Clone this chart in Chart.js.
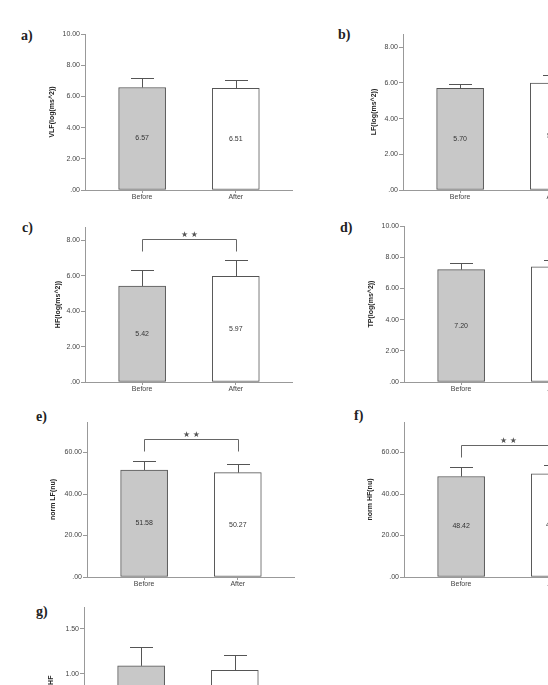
<!DOCTYPE html>
<html>
<head>
<meta charset="utf-8">
<script src="https://cdn.jsdelivr.net/npm/chart.js@4.4.1/dist/chart.umd.min.js"></script>
<style>
  html, body { margin: 0; padding: 0; background: #fff; }
  #page { position: relative; width: 548px; height: 685px; overflow: hidden; }
  #page canvas { position: absolute; }
  .tag { position: absolute; font-family: "Liberation Serif", serif; font-weight: bold;
         font-size: 14px; line-height: 14px; color: #222; }
</style>
</head>
<body>
<div id="page"></div>
<script>
// values (mean, SD) - Before / After
const categories = ["Before", "After"];

const vlfMean = [6.57, 6.51];
const vlfSD = [0.59, 0.56];
const lfMean = [5.70, 5.99];
const lfSD = [0.25, 0.47];
const hfMean = [5.42, 5.97];
const hfSD = [0.92, 0.92];
const tpMean = [7.20, 7.39];
const tpSD = [0.42, 0.46];
const normLfMean = [51.58, 50.27];
const normLfSD = [4.5, 4.2];
const normHfMean = [48.42, 49.73];
const normHfSD = [4.5, 4.1];
const ratioMean = [1.09, 1.04];
const ratioSD = [0.21, 0.17];

// tick labels
const ticks10 = [0, 2, 4, 6, 8, 10];
const ticks8 = [0, 2, 4, 6, 8];
const ticksNorm = [0, 20, 40, 60];
const ticksRatio = [0, 0.5, 1, 1.5];

// layout of each small panel (page pixels)
const YW = 45, PT = 12, PR = 4, XH = 22, PLOT_W = 207;
const panels = [
  { tag: "a)", tx: 21, ty: 29, L: 85, T: 34, B: 190, yMax: 10, ticks: ticks10, title: "VLF(log(ms^2))", gap: 33.3, mean: vlfMean, sd: vlfSD },
  { tag: "b)", tx: 338, ty: 28, L: 403, T: 34, B: 190, yMax: 8.74, ticks: ticks8, title: "LF(log(ms^2))", gap: 28.6, mean: lfMean, sd: lfSD },
  { tag: "c)", tx: 22, ty: 221, L: 85, T: 227, B: 382, yMax: 8.75, ticks: ticks8, title: "HF(log(ms^2))", gap: 26.8, mean: hfMean, sd: hfSD, sig: { y: 8.06, drop: 0.65 } },
  { tag: "d)", tx: 340, ty: 221, L: 404, T: 226, B: 382, yMax: 10, ticks: ticks10, title: "TP(log(ms^2))", gap: 33.3, mean: tpMean, sd: tpSD },
  { tag: "e)", tx: 36, ty: 410, L: 87, T: 422, B: 577, yMax: 74.7, ticks: ticksNorm, title: "norm LF(nu)", gap: 34.3, mean: normLfMean, sd: normLfSD, sig: { y: 66.4, drop: 5.7 } },
  { tag: "f)", tx: 354, ty: 409, L: 404, T: 422, B: 577, yMax: 74.7, ticks: ticksNorm, title: "norm HF(nu)", gap: 34, mean: normHfMean, sd: normHfSD, sig: { y: 63.7, drop: 5.7 } },
  { tag: "g)", tx: 36, ty: 605, L: 84, T: 607, B: 764, yMax: 1.744, ticks: ticksRatio, title: "LF/HF", gap: 32.6, mean: ratioMean, sd: ratioSD }
];

const fmt = v => v.toFixed(2).replace(/^0(?=\.)/, "");

// error bars, value labels and significance bracket
const barExtras = {
  id: "barExtras",
  afterDatasetsDraw(chart, args, o) {
    const ctx = chart.ctx;
    const y = chart.scales.y;
    const bars = chart.getDatasetMeta(0).data;
    ctx.save();
    ctx.lineWidth = 1;
    ctx.strokeStyle = "#555";
    bars.forEach((bar, i) => {
      const cx = Math.round(bar.x) + 0.5;
      const top = Math.round(y.getPixelForValue(o.mean[i] + o.sd[i])) + 0.5;
      ctx.beginPath();
      ctx.moveTo(cx, bar.y);
      ctx.lineTo(cx, top);
      ctx.moveTo(cx - 11.5, top);
      ctx.lineTo(cx + 11.5, top);
      ctx.stroke();
      ctx.fillStyle = "#333";
      ctx.font = '7px "Liberation Sans"';
      ctx.textAlign = "center";
      ctx.textBaseline = "middle";
      ctx.fillText(o.mean[i].toFixed(2), bar.x, (bar.y + bar.base) / 2);
    });
    if (o.sig) {
      const x0 = Math.round(bars[0].x) + 0.5, x1 = Math.round(bars[1].x) + 0.5;
      const yl = Math.round(y.getPixelForValue(o.sig.y)) + 0.5;
      const yd = Math.round(y.getPixelForValue(o.sig.y - o.sig.drop)) + 0.5;
      ctx.strokeStyle = "#666";
      ctx.beginPath();
      ctx.moveTo(x0, yd);
      ctx.lineTo(x0, yl);
      ctx.lineTo(x1, yl);
      ctx.lineTo(x1, yd);
      ctx.stroke();
      ctx.fillStyle = "#555";
      ctx.font = '8px "DejaVu Sans"';
      ctx.textAlign = "center";
      ctx.textBaseline = "middle";
      ctx.fillText("\u2605 \u2605", (x0 + x1) / 2, yl - 5);
    }
    ctx.restore();
  }
};

const page = document.getElementById("page");

panels.forEach(p => {
  const tag = document.createElement("div");
  tag.className = "tag";
  tag.style.left = p.tx + "px";
  tag.style.top = p.ty + "px";
  tag.textContent = p.tag;
  page.appendChild(tag);

  const cv = document.createElement("canvas");
  cv.width = YW + PLOT_W + PR;
  cv.height = PT + (p.B - p.T) + XH;
  cv.style.left = (p.L - YW) + "px";
  cv.style.top = (p.T - PT) + "px";
  page.appendChild(cv);

  new Chart(cv, {
    type: "bar",
    data: {
      datasets: [{
        data: p.mean.map((m, i) => ({ x: i, y: m })),
        backgroundColor: ["#c8c8c8", "#ffffff"],
        borderColor: "#555",
        borderWidth: 1,
        borderSkipped: false,
        barThickness: 47
      }]
    },
    options: {
      responsive: false,
      animation: false,
      events: [],
      layout: { padding: { left: 0, top: PT, right: PR, bottom: 0 } },
      plugins: {
        legend: { display: false },
        tooltip: { enabled: false },
        barExtras: { mean: p.mean, sd: p.sd, sig: p.sig }
      },
      scales: {
        x: {
          type: "linear",
          min: -0.61,
          max: 1.6,
          bounds: "data",
          offset: false,
          grid: { offset: false, drawOnChartArea: false, drawTicks: true, tickLength: 3, color: "#999" },
          border: { color: "#999" },
          ticks: {
            padding: 0, maxRotation: 0, color: "#444",
            font: { family: "Liberation Sans", size: 7 },
            callback: v => categories[v]
          },
          afterBuildTicks: s => { s.ticks = categories.map((c, i) => ({ value: i })); },
          afterFit: s => { s.height = XH; }
        },
        y: {
          min: 0,
          max: p.yMax,
          bounds: "data",
          grid: { drawOnChartArea: false, drawTicks: true, tickLength: 4, color: "#999" },
          border: { color: "#999" },
          ticks: {
            padding: 1, color: "#444",
            font: { family: "Liberation Sans", size: 7 },
            callback: v => fmt(v)
          },
          title: {
            display: true,
            text: p.title,
            color: "#222",
            font: { family: "Liberation Sans", size: 7, weight: "bold" },
            padding: { top: YW - 4.2 - p.gap, bottom: 0 }
          },
          afterBuildTicks: s => { s.ticks = p.ticks.map(v => ({ value: v })); },
          afterFit: s => { s.width = YW; }
        }
      }
    },
    plugins: [barExtras]
  });
});
</script>
</body>
</html>
